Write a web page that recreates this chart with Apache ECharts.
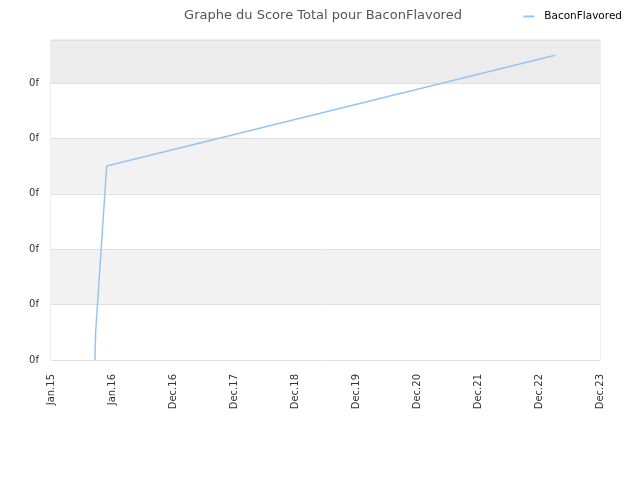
<!DOCTYPE html>
<html>
<head>
<meta charset="utf-8">
<script src="https://cdn.jsdelivr.net/npm/echarts@6/dist/echarts.min.js"></script>
<style>
html,body{margin:0;padding:0;background:#fff;}
#container{width:640px;height:480px;}
</style>
</head>
<body>
<div id="container"></div>
<script>
// donnees du score
var DAY = 86400000;
var startDate = Date.UTC(2015, 0, 1);
var dates = ['2015-09-21', '2015-09-25', '2015-11-30', '2023-04-05'];
var scores = [0, 0.5, 3.5, 5.5];
var monthNames = ['Jan', 'Feb', 'Mar', 'Apr', 'May', 'Jun', 'Jul', 'Aug', 'Sep', 'Oct', 'Nov', 'Dec'];

var xMin = startDate;
var xMax = startDate + 3285 * DAY;
var xStep = (xMax - xMin) / 9;

var dom = document.getElementById('container');
var myChart = echarts.init(dom, null, {renderer: 'canvas'});

var seriesData = dates.map(function (d, i) {
    return [Date.parse(d + 'T00:00:00Z'), scores[i]];
});

var option = {
    animation: false,
    title: {
        text: 'Graphe du Score Total pour BaconFlavored',
        left: 318,
        textAlign: 'center',
        top: 4,
        textStyle: {fontFamily: 'DejaVu Sans', fontSize: 13, fontWeight: 'normal', color: '#555'}
    },
    legend: {
        right: 13,
        top: 6,
        itemWidth: 11,
        itemHeight: 2,
        icon: 'rect',
        textStyle: {fontFamily: 'DejaVu Sans', fontSize: 10.5, color: '#000', padding: [0, 0, 0, 5]},
        data: ['BaconFlavored']
    },
    grid: {
        left: 51,
        right: 40,
        top: 40,
        bottom: 120,
        show: true,
        borderColor: '#ddd',
        borderWidth: 1,
        backgroundColor: 'transparent'
    },
    xAxis: {
        type: 'value',
        min: xMin,
        max: xMax,
        interval: xStep,
        axisLine: {show: false},
        axisTick: {show: false},
        splitLine: {show: false},
        axisLabel: {
            rotate: 90,
            margin: 14,
            fontFamily: 'DejaVu Sans',
            fontSize: 10,
            color: '#333',
            formatter: function (v) {
                var d = new Date(v);
                return monthNames[d.getUTCMonth()] + '.' + String(d.getUTCFullYear()).slice(2);
            }
        }
    },
    yAxis: {
        type: 'value',
        min: 0,
        max: 5.776,
        interval: 1,
        axisLine: {show: false},
        axisTick: {show: false},
        splitLine: {show: true, lineStyle: {color: '#e0e0e0'}},
        splitArea: {
            show: true,
            areaStyle: {color: ['#ffffff', '#f2f2f2', '#ffffff', '#f2f2f2', '#ffffff', '#ececec']}
        },
        axisLabel: {
            fontFamily: 'DejaVu Sans',
            fontSize: 10,
            color: '#333',
            margin: 12,
            showMaxLabel: false,
            formatter: function () { return '0f'; }
        }
    },
    series: [{
        name: 'BaconFlavored',
        type: 'line',
        showSymbol: false,
        symbol: 'none',
        color: '#94c6f4',
        lineStyle: {width: 1.5, color: '#94c6f4'},
        data: seriesData
    }]
};

myChart.setOption(option);
window.addEventListener('resize', function () {
    myChart.resize();
});
</script>
</body>
</html>
